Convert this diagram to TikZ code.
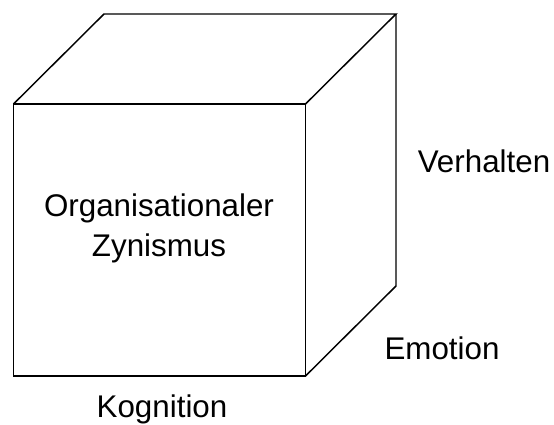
\documentclass[tikz,border=0pt]{standalone}
\usepackage{fontspec}
\setmainfont{Liberation Sans}
\usepackage{tikz}

\begin{document}
\begin{tikzpicture}[
  x=0.75pt, y=-0.75pt,
  edge/.style={draw, line width=1.1pt, line join=miter},
  lbl/.style={font=\fontsize{23.5}{30}\selectfont, inner sep=0pt, align=center}
]
  \useasboundingbox (0,0) rectangle (554,425);
  % front face
  \coordinate (fa) at (13.5,104);
  \coordinate (fb) at (305.5,104);
  \coordinate (fc) at (305.5,376);
  \coordinate (fd) at (13.5,376);
  % back corners
  \coordinate (ba) at (104,14);
  \coordinate (bb) at (396,14);
  \coordinate (bc) at (396,286);
  \draw[edge] (fa) rectangle (fc);
  \draw[edge] (fa) -- (ba) -- (bb) -- (fb);
  \draw[edge] (bb) -- (bc) -- (fc);
  \node[lbl] (zyn) at (159,228) {Organisationaler\\Zynismus};
  \node[lbl] (verh) at (484,161) {Verhalten};
  \node[lbl] (emo) at (442,348) {Emotion};
  \node[lbl] (kog) at (162,409) {Kognition};
\end{tikzpicture}
\end{document}
